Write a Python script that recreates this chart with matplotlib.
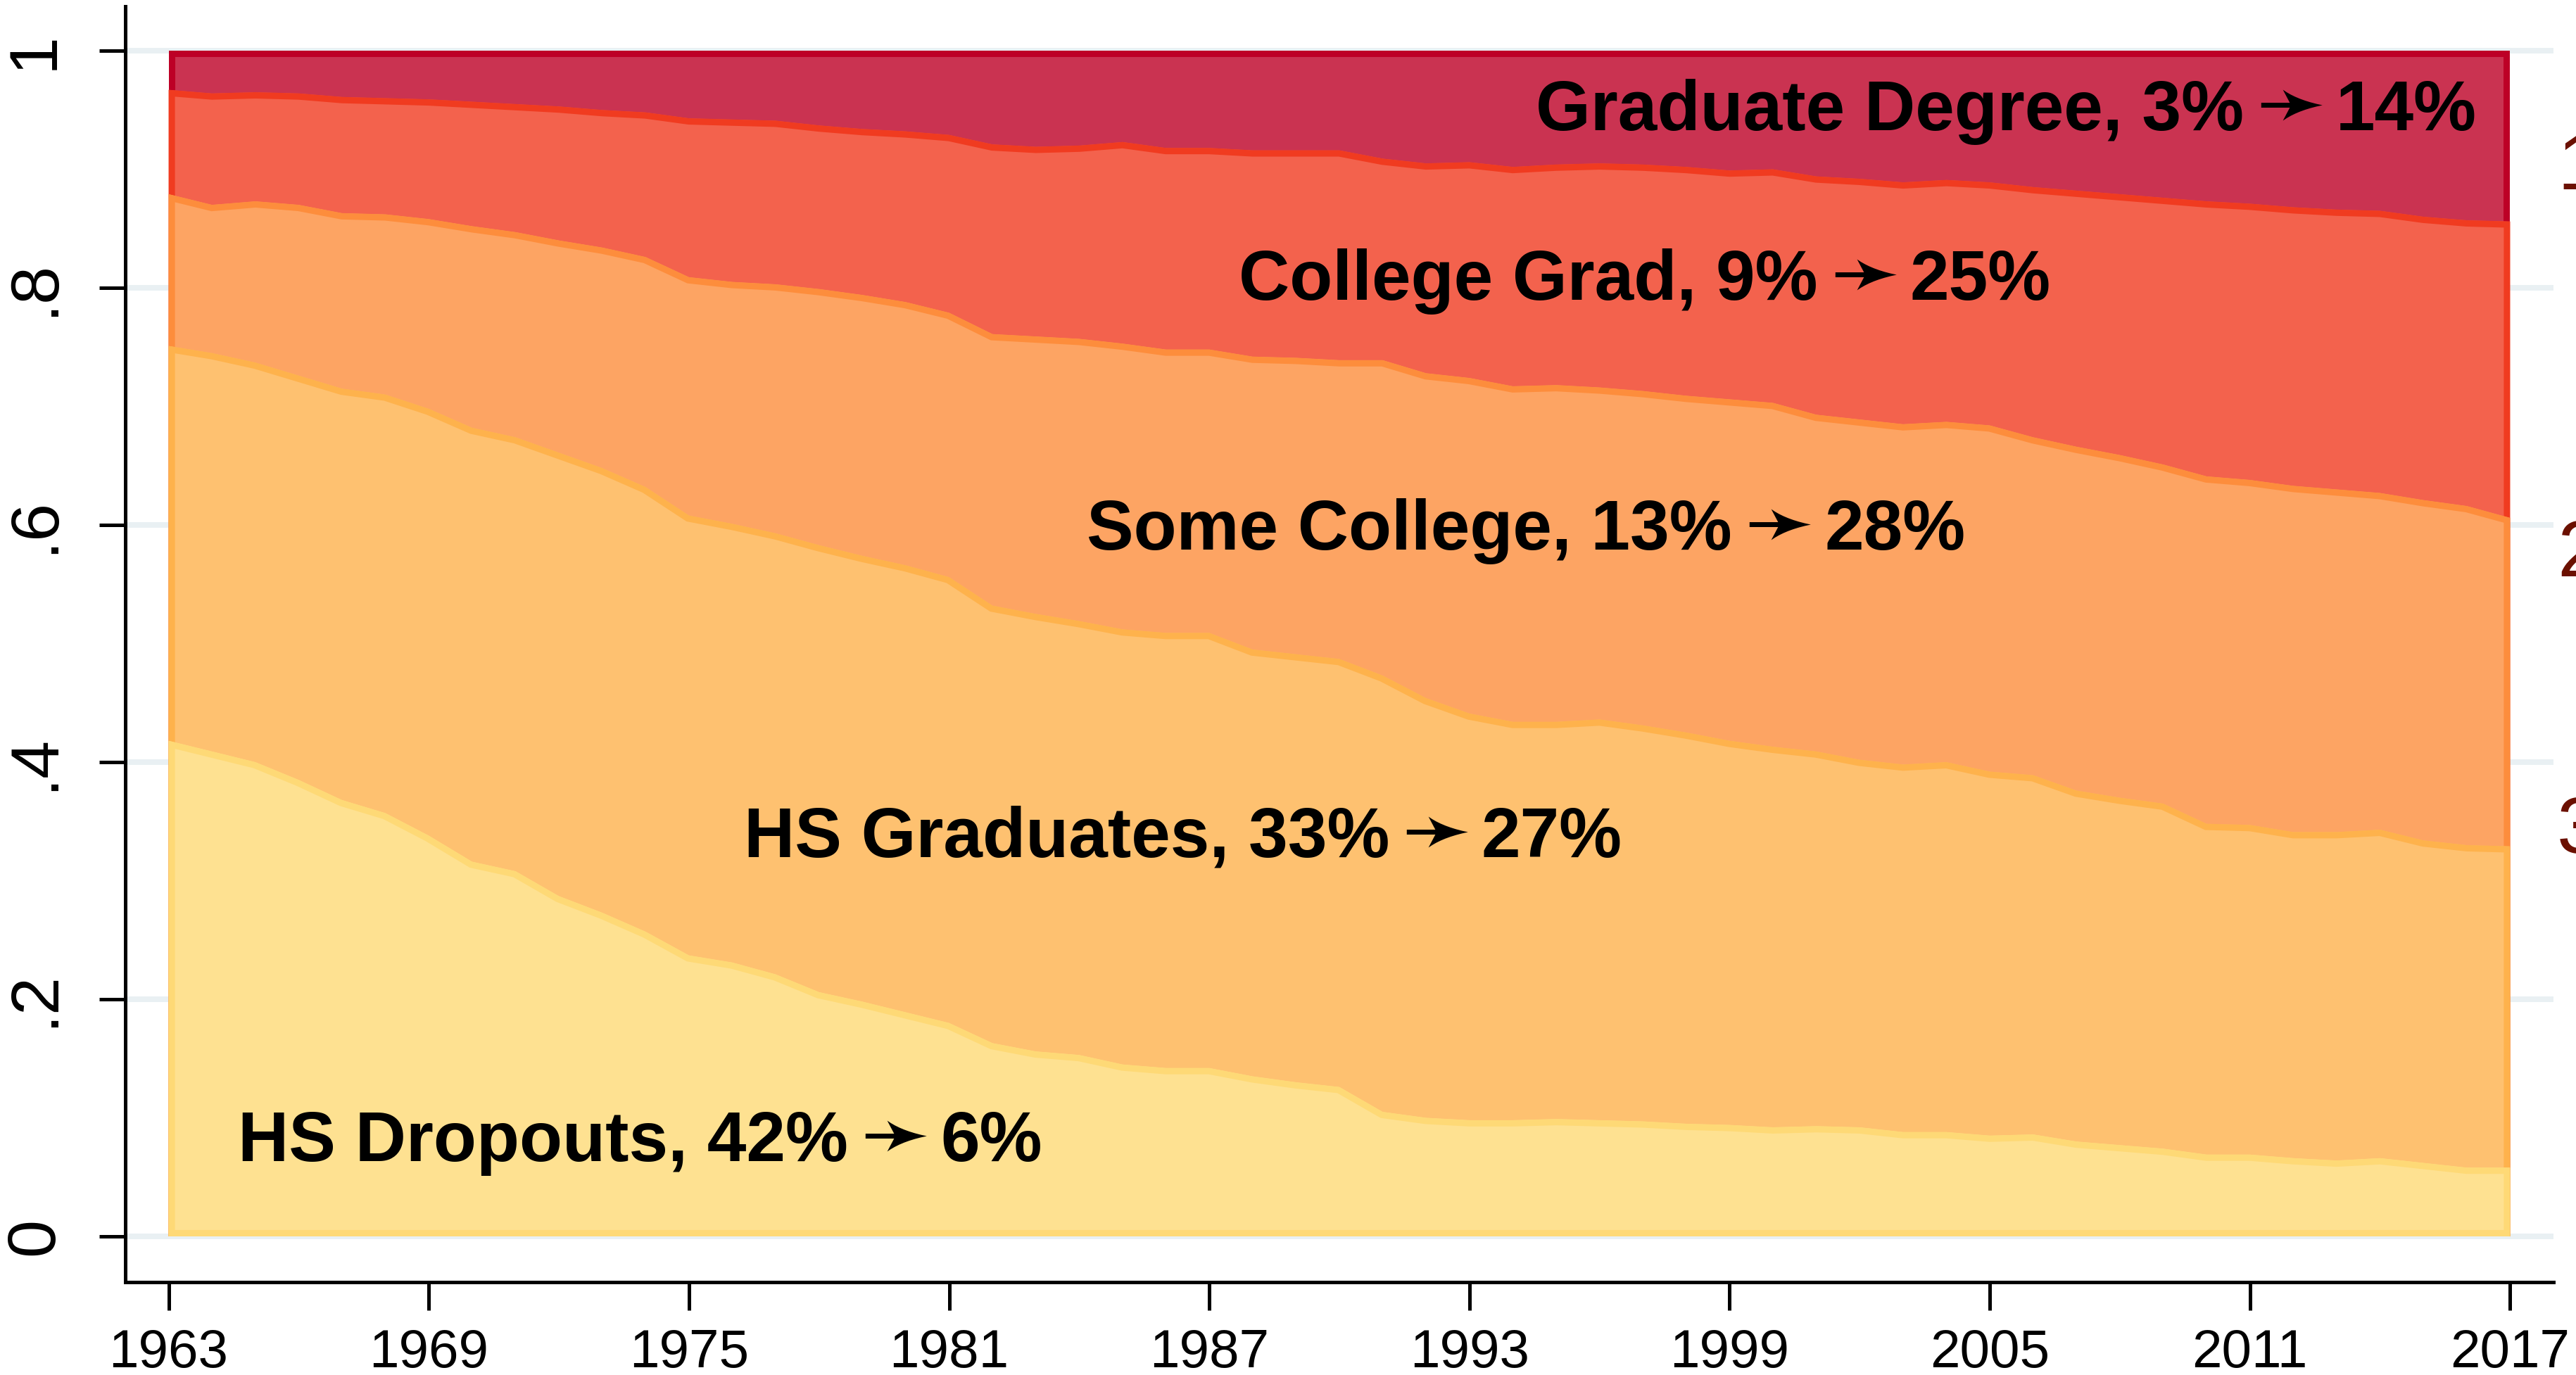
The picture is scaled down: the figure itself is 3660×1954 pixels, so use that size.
import numpy as np
import matplotlib
matplotlib.use("Agg")
import matplotlib.pyplot as plt
from matplotlib.colors import to_rgb
from matplotlib.textpath import TextPath
from matplotlib.font_manager import FontProperties
import matplotlib.transforms as mtransforms

# ---------------- data (cumulative shares) ----------------
years = list(range(1963, 2018))

cum_dropouts = [0.418, 0.409, 0.400, 0.385, 0.368, 0.357, 0.338, 0.316, 0.308, 0.287,
                0.273, 0.257, 0.237, 0.231, 0.221, 0.206, 0.198, 0.189, 0.180, 0.163,
                0.156, 0.153, 0.145, 0.142, 0.142, 0.135, 0.130, 0.126, 0.105, 0.100,
                0.098, 0.098, 0.099, 0.098, 0.097, 0.095, 0.094, 0.092, 0.093, 0.092,
                0.088, 0.088, 0.085, 0.086, 0.080, 0.077, 0.074, 0.069, 0.069, 0.066,
                0.064, 0.066, 0.062, 0.058, 0.058]

cum_hs_grads = [0.751, 0.745, 0.737, 0.726, 0.715, 0.710, 0.698, 0.682, 0.674, 0.661,
                0.648, 0.632, 0.608, 0.601, 0.593, 0.583, 0.574, 0.566, 0.556, 0.532,
                0.525, 0.519, 0.512, 0.509, 0.509, 0.495, 0.491, 0.487, 0.473, 0.454,
                0.441, 0.434, 0.434, 0.436, 0.431, 0.425, 0.418, 0.413, 0.409, 0.402,
                0.398, 0.400, 0.392, 0.389, 0.376, 0.370, 0.365, 0.348, 0.347, 0.341,
                0.341, 0.343, 0.334, 0.330, 0.329]

cum_some_college = [0.879, 0.870, 0.873, 0.870, 0.863, 0.862, 0.858, 0.852, 0.847, 0.840,
                    0.834, 0.826, 0.809, 0.805, 0.803, 0.799, 0.794, 0.788, 0.779, 0.761,
                    0.759, 0.757, 0.753, 0.748, 0.748, 0.742, 0.741, 0.739, 0.739, 0.728,
                    0.724, 0.717, 0.718, 0.716, 0.713, 0.709, 0.706, 0.703, 0.693, 0.689,
                    0.685, 0.687, 0.684, 0.674, 0.666, 0.659, 0.651, 0.641, 0.638, 0.633,
                    0.630, 0.627, 0.621, 0.616, 0.606]

cum_college_grad = [0.967, 0.964, 0.965, 0.964, 0.961, 0.960, 0.959, 0.957, 0.955, 0.953,
                    0.950, 0.948, 0.943, 0.942, 0.941, 0.937, 0.934, 0.932, 0.929, 0.921,
                    0.919, 0.920, 0.923, 0.918, 0.918, 0.916, 0.916, 0.916, 0.909, 0.905,
                    0.906, 0.902, 0.904, 0.905, 0.904, 0.902, 0.899, 0.900, 0.894, 0.892,
                    0.889, 0.891, 0.889, 0.885, 0.882, 0.879, 0.876, 0.873, 0.871, 0.868,
                    0.866, 0.865, 0.860, 0.857, 0.856]

cum_grad_degree = [1.0] * len(years)

ARROW = "\u279b"
label_names = ["HS Dropouts", "HS Graduates", "Some College", "College Grad", "Graduate Degree"]
label_from = ["42%", "33%", "13%", "9%", "3%"]
label_to = ["6%", "27%", "28%", "25%", "14%"]
label_x = [1964.6, 1976.26, 1984.18, 1987.68, 1994.53]
label_y = [0.0635, 0.320, 0.579, 0.790, 0.933]

xtick_years = [1963, 1969, 1975, 1981, 1987, 1993, 1999, 2005, 2011, 2017]
ytick_vals = [0, 0.2, 0.4, 0.6, 0.8, 1.0]
ytick_labels = ["0", ".2", ".4", ".6", ".8", "1"]
side_labels = ["1", "2", "3"]

# ---------------- style ----------------
edge_colors = ["#fed976", "#feb24c", "#fd8d3c", "#f03b20", "#bd0026"]

def tint(c, a=0.8):
    r = np.array(to_rgb(c))
    return tuple(a * r + (1 - a))

FONT = ["Liberation Sans", "DejaVu Sans"]
plt.rcParams["font.family"] = FONT

DPI = 200
fig = plt.figure(figsize=(3660 / DPI, 1954 / DPI), dpi=DPI)
ax = fig.add_axes([178 / 3660, 1 - 1822 / 1954, (3628 - 178) / 3660, (1822 - 9) / 1954])

ax.set_xlim(1962.0, 2018.0)
ax.set_ylim(-0.0386, 1.0374)

cums = [cum_dropouts, cum_hs_grads, cum_some_college, cum_college_grad, cum_grad_degree]
x = np.array(years, dtype=float)
edge_px = 9.0
lw = 2 * edge_px * 72 / DPI
for i in range(4, -1, -1):
    top = np.array(cums[i])
    xs = np.concatenate([x, x[::-1]])
    ys = np.concatenate([top, np.zeros_like(top)])
    poly = ax.fill(xs, ys, facecolor=tint(edge_colors[i]), edgecolor=edge_colors[i],
                   linewidth=lw, zorder=2 + (4 - i) * 0.1, joinstyle="miter")[0]
    poly.set_clip_path(poly)

ax.set_yticks(ytick_vals)
ax.set_yticklabels(ytick_labels, rotation=90, va="center", ha="right")
ax.set_xticks(xtick_years)
ax.set_xticklabels([str(y) for y in xtick_years])
ax.yaxis.grid(True, color="#e9f0f3", linewidth=8 * 72 / DPI, zorder=0)
ax.xaxis.grid(False)
ax.set_axisbelow(True)

for s in ["top", "right"]:
    ax.spines[s].set_visible(False)
for s in ["left", "bottom"]:
    ax.spines[s].set_linewidth(5 * 72 / DPI)
    ax.spines[s].set_color("black")

ax.tick_params(axis="y", length=37 * 72 / DPI, width=5 * 72 / DPI, pad=46 * 72 / DPI,
               labelsize=35)
ax.tick_params(axis="x", length=40 * 72 / DPI, width=5 * 72 / DPI, pad=26 * 72 / DPI,
               labelsize=27.5)

# ---- in-plot labels: "Name, a%" + arrow glyph + "b%" ----
LABEL_PT = 36
arrow_fp = FontProperties(family="DejaVu Sans")
tp = TextPath((0, 0), ARROW, size=100, prop=arrow_fp)
ext = tp.get_extents()
ARROW_W_PX = 87.0
arrow_px_per_unit = ARROW_W_PX / ext.width          # pixels per TextPath unit
arrow_font_px = 100 * arrow_px_per_unit
arrow_pt = arrow_font_px * 72 / DPI
arrow_xmin_px = ext.x0 * arrow_px_per_unit
arrow_ymid_px = 0.5 * (ext.y0 + ext.y1) * arrow_px_per_unit
SHAFT_ABOVE_BASE_PX = 36.0

renderer = fig.canvas.get_renderer()
for name, a, b, lx, ly in zip(label_names, label_from, label_to, label_x, label_y):
    pre = ax.text(lx, ly, f"{name}, {a}", fontsize=LABEL_PT, fontweight="bold",
                  color="black", ha="left", va="baseline", zorder=10, family=FONT)
    bb = pre.get_window_extent(renderer)
    x0_px = ax.transData.transform((lx, ly))[0]
    dx_arrow = (bb.x1 - x0_px) + 24 - arrow_xmin_px
    dy_arrow = SHAFT_ABOVE_BASE_PX - arrow_ymid_px
    tr_a = mtransforms.offset_copy(ax.transData, fig=fig, x=dx_arrow, y=dy_arrow, units="dots")
    ax.text(lx, ly, ARROW, fontsize=arrow_pt, color="black", ha="left", va="baseline",
            zorder=10, family=["DejaVu Sans"], transform=tr_a)
    dx_post = dx_arrow + arrow_xmin_px + ARROW_W_PX + 20
    tr_b = mtransforms.offset_copy(ax.transData, fig=fig, x=dx_post, y=0, units="dots")
    ax.text(lx, ly, b, fontsize=LABEL_PT, fontweight="bold", color="black",
            ha="left", va="baseline", zorder=10, family=FONT, transform=tr_b)

side_baselines_px = [269, 819, 1212]
for t, by in zip(side_labels, side_baselines_px):
    fig.text(3633 / 3660, 1 - by / 1954, t, fontsize=41, color="#6b1000",
             ha="left", va="baseline")

fig.savefig("out.png", dpi=DPI)
